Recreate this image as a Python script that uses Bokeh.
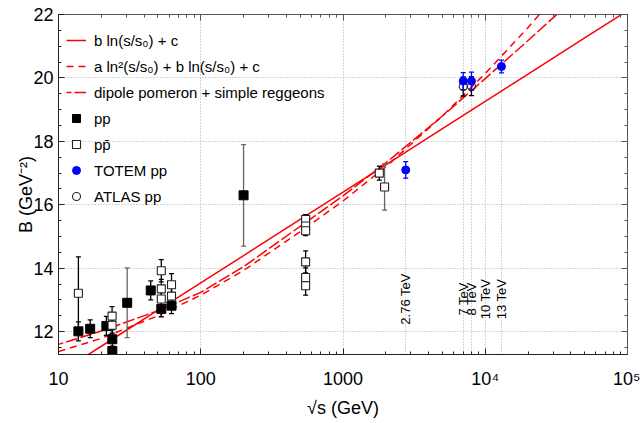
from bokeh.plotting import figure
from bokeh.models import (ColumnDataSource, FixedTicker, LinearAxis, LogAxis,
                          Legend, LegendItem, Range1d)
from bokeh.core.properties import value
from bokeh.embed import file_html
from bokeh.resources import INLINE
import math

FONT = "Liberation Sans"

# ---------------- data ----------------
# pp (filled squares)
pp_sqrts = [13.8, 16.7, 21.7, 23.9, 23.9, 30.4, 44.5, 52.8, 62.3, 200.0]
pp_B     = [12.01, 12.09, 12.18, 11.76, 11.39, 12.91, 13.30, 12.72, 12.82, 16.30]
pp_err   = [0.30, 0.28, 0.30, 0.30, 0.15, 1.10, 0.30, 0.25, 0.25, 1.60]
pp_ecol  = ["black", "black", "black", "black", "black", "#666666", "black", "black", "black", "#666666"]

# p pbar (open squares)
ppb_sqrts = [13.8, 23.8, 23.8, 52.8, 52.8, 52.8, 62.3, 62.3,
             546.0, 546.0, 546.0, 546.0, 546.0, 546.0, 1800.0, 1960.0]
ppb_B     = [13.21, 12.49, 12.20, 13.92, 13.35, 13.03, 13.48, 13.12,
             15.54, 15.33, 15.18, 14.20, 13.71, 13.45, 17.00, 16.56]
ppb_err   = [1.15, 0.30, 0.25, 0.35, 0.30, 0.30, 0.35, 0.30,
             0.15, 0.15, 0.15, 0.35, 0.30, 0.30, 0.22, 0.73]
ppb_ecol  = ["black"] * 15 + ["#666666"]

# TOTEM pp
totem_sqrts = [2760.0, 7000.0, 8000.0, 13000.0]
totem_B     = [17.10, 19.90, 19.90, 20.36]
totem_err   = [0.26, 0.27, 0.28, 0.20]

# ATLAS pp
atlas_sqrts = [7000.0, 8000.0]
atlas_B     = [19.73, 19.74]
atlas_err   = [0.30, 0.30]

# model curves
curve_sqrts = [10, 20, 50, 100, 200, 500, 1000, 2000, 5000, 1e4, 2e4, 5e4, 1e5]
lin_B    = [10.68, 11.54, 12.68, 13.54, 14.40, 15.54, 16.40, 17.26, 18.40, 19.26, 20.12, 21.26, 22.12]
ln2_B    = [11.37, 11.79, 12.50, 13.15, 13.93, 15.15, 16.12, 17.20, 18.80, 20.14, 21.59, 23.67, 25.35]
dipole_B = [11.60, 12.02, 12.66, 13.24, 14.05, 15.32, 16.28, 17.32, 18.80, 19.98, 21.18, 22.80, 24.00]

# energy markers
energy_sqrts  = [2760.0, 7000.0, 8000.0, 10000.0, 13000.0]
energy_labels = ["2.76 TeV", "7 TeV", "8 TeV", "10 TeV", "13 TeV"]
energy_label_B = 13.03

x_ticks = [10, 100, 1000, 10000, 100000]
x_tick_labels = ["10", "100", "1000", "10\u2074", "10\u2075"]
y_ticks = [12, 14, 16, 18, 20, 22]

# ---------------- figure ----------------
p = figure(width=640, height=420, x_axis_type="log",
           x_range=Range1d(10, 1e5), y_range=Range1d(11.28, 22),
           output_backend="svg", toolbar_location=None,
           min_border_left=58, min_border_right=13,
           min_border_top=14, min_border_bottom=64)
p.background_fill_color = "white"
p.outline_line_color = "#333333"
p.outline_line_width = 1

x_minor = [k * 10 ** d for d in range(1, 5) for k in range(2, 10)]
y_minor = [v / 2 for v in range(23, 44) if v % 4 != 0]

xax = p.xaxis[0]
xax.ticker = FixedTicker(ticks=x_ticks, minor_ticks=x_minor)
xax.major_label_overrides = {t: l for t, l in zip(x_ticks, x_tick_labels)}
yax = p.yaxis[0]
yax.ticker = FixedTicker(ticks=y_ticks, minor_ticks=y_minor)

for ax in (xax, yax):
    ax.major_tick_in = 6
    ax.major_tick_out = 0
    ax.minor_tick_in = 3
    ax.minor_tick_out = 0
    ax.axis_line_color = "#222222"
    ax.major_tick_line_color = "#222222"
    ax.minor_tick_line_color = "#222222"
    ax.major_label_text_font = FONT
    ax.major_label_text_font_size = "18px"
    ax.major_label_text_color = "black"
    ax.axis_label_text_font = FONT
    ax.axis_label_text_font_size = "18px"
    ax.axis_label_text_font_style = "normal"
    ax.axis_label_text_color = "black"

xax.major_label_standoff = 14
xax.axis_label = "\u221as (GeV)"
xax.axis_label_standoff = 6
yax.major_label_standoff = 5
yax.axis_label = "B (GeV\u207b\u00b2)" + "\u00a0" * 4
yax.axis_label_standoff = -6

# frame axes on top and right (ticks only, labels invisible)
top = LogAxis(ticker=FixedTicker(ticks=x_ticks, minor_ticks=x_minor))
right = LinearAxis(ticker=FixedTicker(ticks=y_ticks, minor_ticks=y_minor))
for ax in (top, right):
    ax.major_tick_in = 6
    ax.major_tick_out = 0
    ax.minor_tick_in = 3
    ax.minor_tick_out = 0
    ax.major_label_text_font_size = "2px"
    ax.major_label_text_alpha = 0
    ax.major_label_standoff = 1
    ax.axis_line_color = "#555555"
    ax.major_tick_line_color = "#555555"
    ax.minor_tick_line_color = "#555555"
p.add_layout(top, "above")
p.add_layout(right, "right")

p.xgrid.ticker = FixedTicker(ticks=[100, 1000] + energy_sqrts)
p.ygrid.ticker = FixedTicker(ticks=[12, 14, 16, 18, 20])
for g in (p.xgrid[0], p.ygrid[0]):
    g.grid_line_color = "#aaaaaa"
    g.grid_line_dash = "1 2"
    g.grid_line_width = 1

# ---------------- model curves ----------------
r_lin = p.line(curve_sqrts, lin_B, line_color="red", line_width=1.5)
r_ln2 = p.line(curve_sqrts, ln2_B, line_color="red", line_width=1.5, line_dash="7 5")
r_dip = p.line(curve_sqrts, dipole_B, line_color="red", line_width=1.5,
               line_dash="12 3", line_dash_offset=7)

# energy labels
p.text(x=energy_sqrts, y=[energy_label_B] * len(energy_sqrts), text=energy_labels,
       angle=math.pi / 2, text_align="center", text_baseline="middle",
       text_font=value(FONT), text_font_size="13px", text_color="black")

# ---------------- error bars ----------------
def errbars(xs, ys, es, cols):
    src = ColumnDataSource(dict(x=xs, lo=[y - e for y, e in zip(ys, es)],
                                hi=[y + e for y, e in zip(ys, es)], c=cols))
    p.segment(x0="x", y0="lo", x1="x", y1="hi", line_color="c", line_width=1.3, source=src)
    p.scatter(x="x", y="lo", marker="dash", size=5, line_color="c", line_width=1.3, source=src)
    p.scatter(x="x", y="hi", marker="dash", size=5, line_color="c", line_width=1.3, source=src)

errbars(pp_sqrts, pp_B, pp_err, pp_ecol)
errbars(ppb_sqrts, ppb_B, ppb_err, ppb_ecol)
errbars(atlas_sqrts, atlas_B, atlas_err, ["black"] * len(atlas_sqrts))
errbars(totem_sqrts, totem_B, totem_err, ["blue"] * len(totem_sqrts))

# ---------------- points ----------------
r_pp = p.scatter(pp_sqrts, pp_B, marker="square", size=9, fill_color="black", line_color="black")
r_ppb = p.scatter(ppb_sqrts, ppb_B, marker="square", size=8, fill_color="white",
                  line_color="#222222", line_width=1.1)
r_atlas = p.scatter(atlas_sqrts, atlas_B, marker="circle", size=8, fill_alpha=0,
                    line_color="#222222", line_width=1.1)
r_totem = p.scatter(totem_sqrts, totem_B, marker="circle", size=8, fill_color="blue",
                    line_color="blue")

legend = Legend(items=[
    LegendItem(label="b ln(s/s\u2080) + c", renderers=[r_lin]),
    LegendItem(label="a ln\u00b2(s/s\u2080) + b ln(s/s\u2080) + c", renderers=[r_ln2]),
    LegendItem(label="dipole pomeron + simple reggeons", renderers=[r_dip]),
    LegendItem(label="pp", renderers=[r_pp]),
    LegendItem(label="pp\u0304", renderers=[r_ppb]),
    LegendItem(label="TOTEM pp", renderers=[r_totem]),
    LegendItem(label="ATLAS pp", renderers=[r_atlas]),
], location=(8, 148))
legend.border_line_color = None
legend.background_fill_alpha = 0
legend.label_text_font = FONT
legend.label_text_font_size = "15px"
legend.label_text_color = "black"
legend.glyph_width = 20
legend.glyph_height = 20
legend.label_height = 20
legend.label_standoff = 8
legend.spacing = 6
legend.padding = 10
legend.margin = 0
p.add_layout(legend)

open("out.html", "w").write(file_html(p, INLINE))
